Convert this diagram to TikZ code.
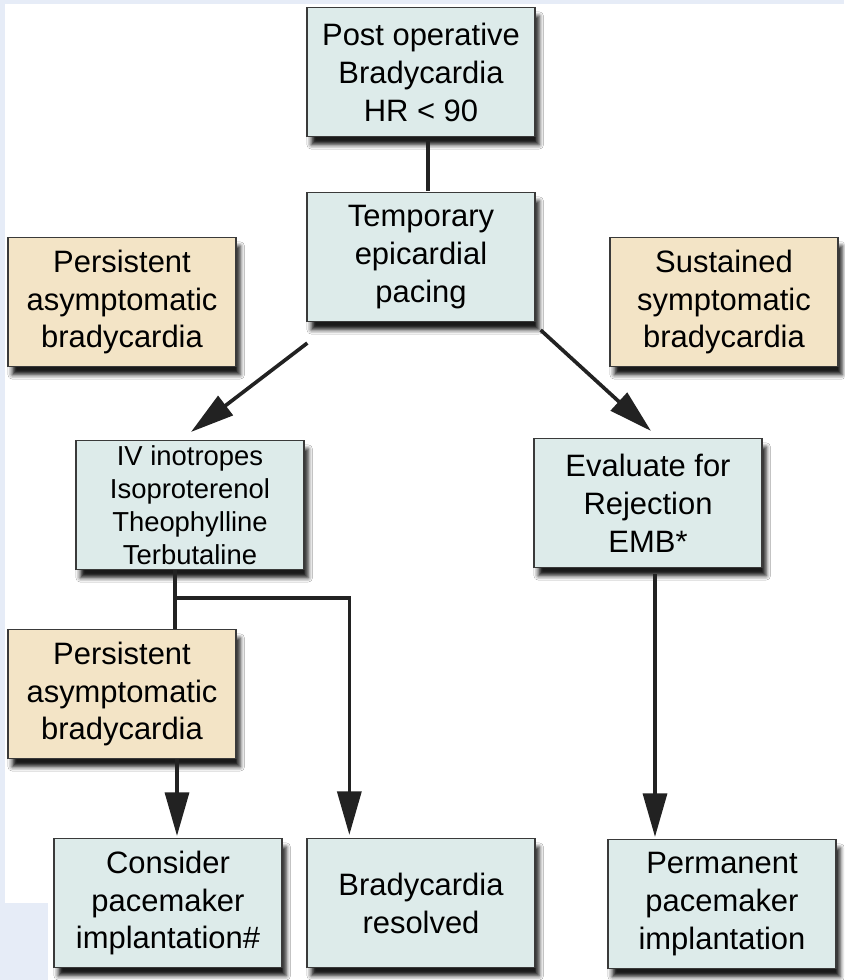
\documentclass[tikz,border=0pt]{standalone}
\usepackage{fontspec}
\setmainfont{Liberation Sans}
\usetikzlibrary{arrows.meta,calc,shadows.blur}
\definecolor{boxblue}{HTML}{DDEBEA}
\definecolor{boxtan}{HTML}{F3E4C6}
\definecolor{edgegray}{HTML}{3A3A3A}
\definecolor{linegray}{HTML}{222222}
\definecolor{slideblue}{HTML}{E6ECF7}
\tikzset{
  box/.style={draw=edgegray, line width=0.9pt, minimum width=5.7cm,
    minimum height=3.22cm, align=center, font=\fontsize{22}{27}\selectfont,
    blur shadow={shadow xshift=3pt, shadow yshift=-6pt, shadow blur radius=3pt,
      shadow opacity=90}},
  action/.style={box, fill=boxblue},
  finding/.style={box, fill=boxtan},
  link/.style={line width=2.6pt, draw=linegray},
  arr/.style={link, -{Triangle[length=31pt,width=17pt]}}
}
\begin{document}
\begin{tikzpicture}[x=0.025cm,y=-0.025cm]
  % slide background
  \fill[white] (0,0) rectangle (844,980);
  \fill[slideblue] (0,0) rectangle (844,4);
  \fill[slideblue] (0,0) rectangle (5,980);
  \fill[slideblue] (0,903) rectangle (48,980);
  % boxes
  \node[action] (post) at (421,72) {Post operative\\Bradycardia\\HR < 90};
  \node[action] (pacing) at (421,257) {Temporary\\epicardial\\pacing};
  \node[finding] (persist) at (122,302) {Persistent\\asymptomatic\\bradycardia};
  \node[finding] (sustain) at (724,302) {Sustained\\symptomatic\\bradycardia};
  \node[action, font=\fontsize{19.5}{23.5}\selectfont] (drugs) at (190,505)
    {IV inotropes\\Isoproterenol\\Theophylline\\Terbutaline};
  \node[action] (evalr) at (648,503) {Evaluate for\\Rejection\\EMB*};
  \node[finding] (persist2) at (122,694) {Persistent\\asymptomatic\\bradycardia};
  \node[action] (consider) at (168,903) {Consider\\pacemaker\\implantation\#};
  \node[action] (resolved) at (421,903) {Bradycardia\\resolved};
  \node[action] (permanent) at (722,904) {Permanent\\pacemaker\\implantation};
  \coordinate (split) at (175,598);
  % connectors
  \begin{scope}
    \draw[link] ($(post.south)+(7,3)$) -- ($(pacing.north)+(7,-1)$);
    \draw[arr] ($(pacing.south west)+(1,21)$) -- ($(drugs.north)+(1,-8)$);
    \draw[arr] ($(pacing.south east)+(5,8)$) -- ($(evalr.north)+(3,-7)$);
    \draw[link] (drugs.south -| split) -- (persist2.north -| split);
    \draw[arr] (split) -| ($(resolved.north west)+(43,-3)$);
    \draw[arr] ($(persist2.south)+(55,0)$) -- ($(consider.north)+(9,-2)$);
    \draw[arr] ($(evalr.south)+(7,6)$) -- ($(permanent.north)+(-67,-2)$);
  \end{scope}
\end{tikzpicture}
\end{document}
